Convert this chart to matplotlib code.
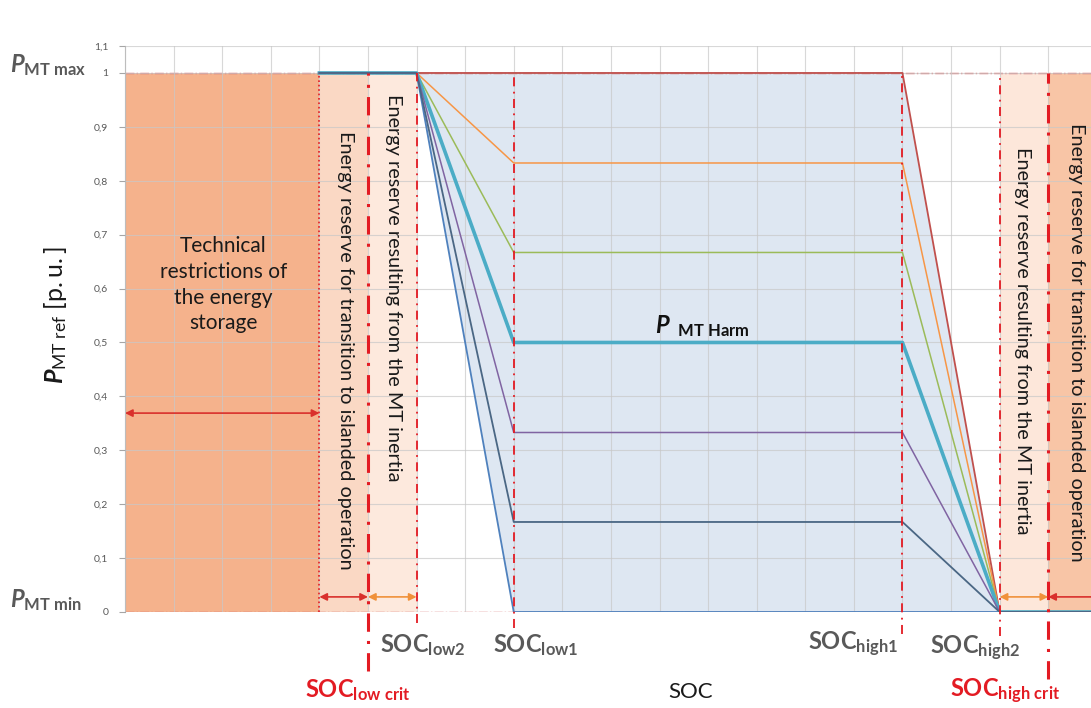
import numpy as np
import matplotlib
matplotlib.use("Agg")
from matplotlib import pyplot as plt

plt.rcParams["font.family"] = ["Lato", "DejaVu Sans"]
plt.rcParams["mathtext.fontset"] = "custom"
plt.rcParams["mathtext.rm"] = "Lato"
plt.rcParams["mathtext.bf"] = "Lato:bold"
plt.rcParams["mathtext.it"] = "Lato:italic:bold"

# SOC breakpoints (grid units) and the P_MT ref curves
soc = [4, 6, 8, 16, 18, 20]
p_000 = [1, 1, 0, 0, 0, 0]
p_017 = [1, 1, 0.167, 0.167, 0, 0]
p_033 = [1, 1, 0.333, 0.333, 0, 0]
p_050 = [1, 1, 0.5, 0.5, 0, 0]
p_067 = [1, 1, 0.667, 0.667, 0, 0]
p_083 = [1, 1, 0.833, 0.833, 0, 0]
p_100 = [1, 1, 1, 1, 0, 0]

# zone borders
soc_tech = 4
soc_low_crit = 5
soc_low2 = 6
soc_low1 = 8
soc_high1 = 16
soc_high2 = 18
soc_high_crit = 19
x_end = 19.88

yticks = [0, 0.1, 0.2, 0.3, 0.4, 0.5, 0.6, 0.7, 0.8, 0.9, 1, 1.05]
ytick_labels = ["0", "0,1", "0,2", "0,3", "0,4", "0,5", "0,6", "0,7", "0,8", "0,9", "1", "1,1"]

red = "#E31B23"
gray_txt = "#595959"

fig = plt.figure(figsize=(10.91, 7.08), dpi=100)
ax = fig.add_axes([0.1146, 0.1356, 0.8854, 0.7994])
ax.set_xlim(0, x_end)
ax.set_ylim(0, 1.05)

# background zones
ax.axvspan(0, soc_tech, 0, 1 / 1.05, color="#F5B28C", lw=0, zorder=0.5)
ax.axvspan(soc_tech, soc_low_crit, 0, 1 / 1.05, color="#FAD8C4", lw=0, zorder=0.5)
ax.axvspan(soc_low_crit, soc_low2, 0, 1 / 1.05, color="#FDE9DD", lw=0, zorder=0.5)
ax.axvspan(soc_high2, soc_high_crit, 0, 1 / 1.05, color="#FDE7DA", lw=0, zorder=0.5)
ax.axvspan(soc_high_crit, x_end, 0, 1 / 1.05, color="#F8C5A6", lw=0, zorder=0.5)
ax.fill([soc_low2, soc_high1, soc_high2, soc_low1], [1, 1, 0, 0], color="#DEE7F2", lw=0, zorder=0.5)

# grid
ax.set_xticks(np.arange(0, 20))
ax.set_xticklabels([])
ax.tick_params(axis="x", length=0)
ax.set_yticks(yticks)
ax.set_yticklabels(ytick_labels, fontsize=7.5, color="#595959")
ax.tick_params(axis="y", length=4, color="#A6A6A6", pad=8)
ax.grid(True, color="#C8C8C8", lw=0.8, alpha=0.7)
ax.set_axisbelow(False)
for s in ["top", "right", "bottom"]:
    ax.spines[s].set_visible(False)
ax.spines["left"].set_color("#A6A6A6")

# P max / P min dash-dot lines
ax.plot([0, x_end], [1, 1], color="#E06A6A", lw=1, ls="-.", zorder=2)
ax.plot([0, x_end], [0, 0], color="#E06A6A", lw=1, ls="-.", zorder=2)

# curves
ax.plot(soc, p_000, color="#4F81BD", lw=1.3, zorder=3)
ax.plot(soc[1:], p_100[1:], color="#C0504D", lw=1.3, zorder=3)
ax.plot(soc, p_083, color="#F79646", lw=1.1, zorder=3)
ax.plot(soc, p_067, color="#9BBB59", lw=1.1, zorder=3)
ax.plot(soc, p_050, color="#4BACC6", lw=2.6, zorder=3)
ax.plot(soc, p_033, color="#8064A2", lw=1.1, zorder=3)
ax.plot(soc, p_017, color="#4A6784", lw=1.3, zorder=3)

# vertical SOC limits
ax.plot([soc_tech, soc_tech], [0, 1], color=red, lw=1.2, ls=":", zorder=4)
ax.plot([soc_low_crit, soc_low_crit], [-0.11, 1], color=red, lw=2.2, ls=(0, (6, 3, 1, 3)), zorder=4, clip_on=False)
ax.plot([soc_low2, soc_low2], [-0.02, 1], color=red, lw=1.3, ls=(0, (5, 3, 1, 3)), zorder=4, clip_on=False)
ax.plot([soc_low1, soc_low1], [-0.03, 1], color=red, lw=1.3, ls=(0, (5, 3, 1, 3)), zorder=4, clip_on=False)
ax.plot([soc_high1, soc_high1], [-0.04, 1], color=red, lw=1.3, ls=(0, (5, 3, 1, 3)), zorder=4, clip_on=False)
ax.plot([soc_high2, soc_high2], [-0.045, 1], color=red, lw=1.3, ls=(0, (5, 3, 1, 3)), zorder=4, clip_on=False)
ax.plot([soc_high_crit, soc_high_crit], [-0.125, 1], color=red, lw=2.2, ls=(0, (6, 3, 1, 3)), zorder=4, clip_on=False)

# arrows
def arrow(x0, x1, y, c):
    ax.annotate("", xy=(x0, y), xytext=(x1, y),
                arrowprops=dict(arrowstyle="<|-|>", color=c, lw=1.2, mutation_scale=11,
                                shrinkA=0, shrinkB=0), zorder=5)

arrow(0, soc_tech, 0.369, "#D9302C")
arrow(soc_tech, soc_low_crit, 0.028, "#D9302C")
arrow(soc_low_crit, soc_low2, 0.028, "#F0913A")
arrow(soc_high2, soc_high_crit, 0.028, "#F0913A")
arrow(soc_high_crit, x_end + 0.3, 0.028, "#D9302C")

# zone texts
ax.text(2.02, 0.607, "Technical\nrestrictions of\nthe energy\nstorage", ha="center", va="center",
        fontsize=15, linespacing=1.35, color="#1A1A1A", zorder=6)
ax.text(4.53, 0.486, "Energy reserve for transition to islanded operation", rotation=270,
        ha="center", va="center", fontsize=14.3, color="#1A1A1A", zorder=6)
ax.text(5.53, 0.601, "Energy reserve resulting from the MT inertia", rotation=270,
        ha="center", va="center", fontsize=14.3, color="#1A1A1A", zorder=6)
ax.text(18.46, 0.503, "Energy reserve resulting from the MT inertia", rotation=270,
        ha="center", va="center", fontsize=14.3, color="#1A1A1A", zorder=6)
ax.text(19.59, 0.501, "Energy reserve for transition to islanded operation", rotation=270,
        ha="center", va="center", fontsize=14.3, color="#1A1A1A", zorder=6, clip_on=False)

ax.text(10.9, 0.53, r"$\mathit{P}_{\mathbf{\ \ MT\ Harm}}$", fontsize=17, color="#111111",
        ha="left", va="center", zorder=6)

# axis side labels
ax.text(-2.37, 1.015, r"$\mathit{P}_{\mathbf{MT\ max}}$", fontsize=17, color="#595959",
        ha="left", va="center", clip_on=False)
ax.text(-2.37, 0.022, r"$\mathit{P}_{\mathbf{MT\ min}}$", fontsize=17, color="#595959",
        ha="left", va="center", clip_on=False)
ax.text(-1.44, 0.551, r"$\mathit{P}_{\mathrm{MT\ ref}}\ \mathrm{[p.u.]}$", fontsize=18, color="#1A1A1A",
        rotation=90, ha="center", va="center", clip_on=False)

# SOC labels
ax.text(5.25, -0.061, r"$\mathbf{SOC_{low2}}$", fontsize=17, color=gray_txt, ha="left", va="center", clip_on=False)
ax.text(7.57, -0.061, r"$\mathbf{SOC_{low1}}$", fontsize=17, color=gray_txt, ha="left", va="center", clip_on=False)
ax.text(14.05, -0.061, r"$\mathbf{SOC_{high1}}$", fontsize=17, color=gray_txt, ha="left", va="center", clip_on=False)
ax.text(16.56, -0.067, r"$\mathbf{SOC_{high2}}$", fontsize=17, color=gray_txt, ha="left", va="center", clip_on=False)
ax.text(3.70, -0.145, r"$\mathbf{SOC_{low\ crit}}$", fontsize=17, color=red, ha="left", va="center", clip_on=False)
ax.text(16.98, -0.148, r"$\mathbf{SOC_{high\ crit}}$", fontsize=17, color=red, ha="left", va="center", clip_on=False)
ax.text(11.63, -0.148, "SOC", fontsize=16, color="#1A1A1A", ha="center", va="center", clip_on=False)

fig.savefig("out.png", dpi=100)
